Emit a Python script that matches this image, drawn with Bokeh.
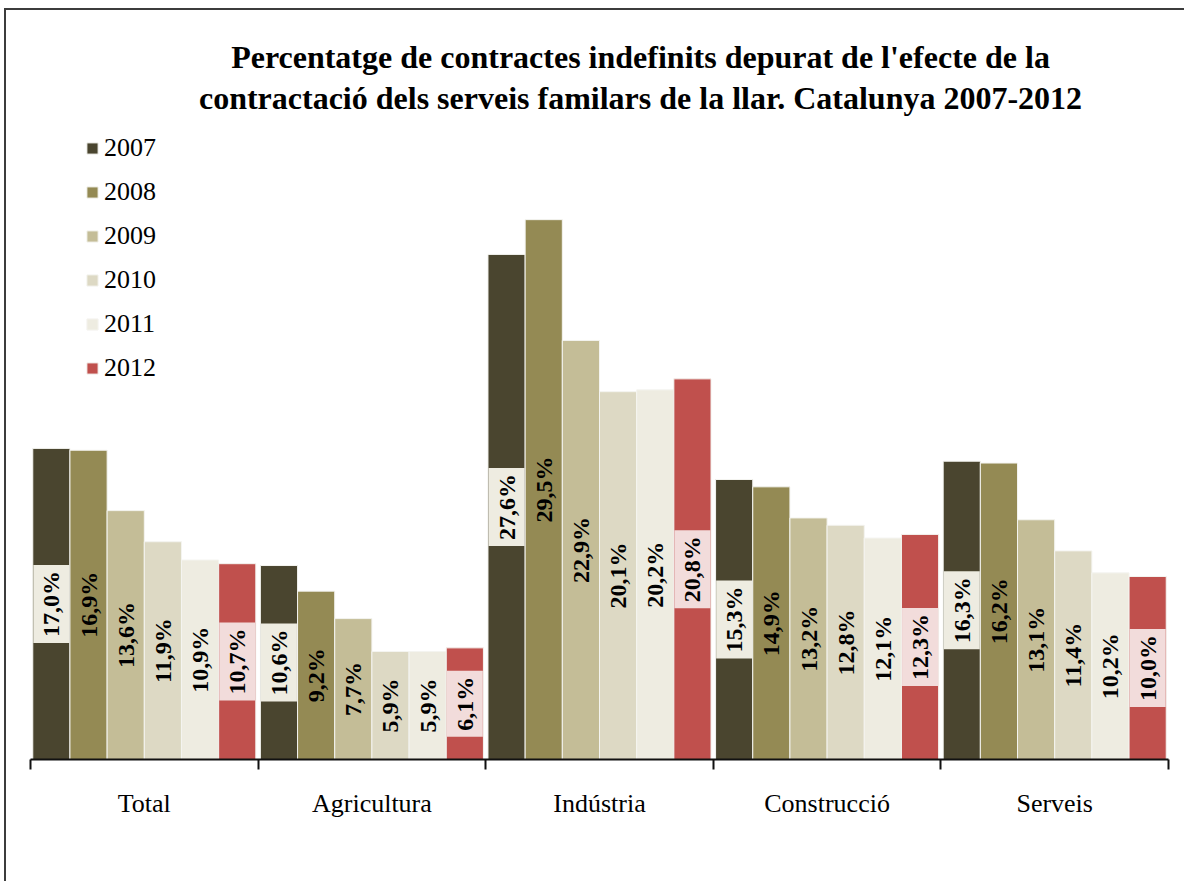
from bokeh.plotting import figure
from bokeh.models import (ColumnDataSource, Range1d, LinearAxis, FixedTicker,
                          Legend, LegendItem, Label)
from bokeh.transform import dodge
from bokeh.core.properties import value
from bokeh.embed import file_html
from bokeh.resources import INLINE
import math

categories = ["Total", "Agricultura", "Indústria", "Construcció", "Serveis"]
years = ["2007", "2008", "2009", "2010", "2011", "2012"]
v2007 = [17.0, 10.6, 27.6, 15.3, 16.3]
v2008 = [16.9, 9.2, 29.5, 14.9, 16.2]
v2009 = [13.6, 7.7, 22.9, 13.2, 13.1]
v2010 = [11.9, 5.9, 20.1, 12.8, 11.4]
v2011 = [10.9, 5.9, 20.2, 12.1, 10.2]
v2012 = [10.7, 6.1, 20.8, 12.3, 10.0]
series = [v2007, v2008, v2009, v2010, v2011, v2012]

colors = ["#4A452F", "#948A54", "#C4BD97", "#DDD9C4", "#EEECE1", "#C0504D"]
label_bg = {0: "#EEECE1", 5: "#F2DCDB"}
title_text = ("Percentatge de contractes indefinits depurat de l'efecte de la\n"
              "contractació dels serveis familars de la llar. Catalunya 2007-2012")

SERIF = "Liberation Serif"
W, H = 1180, 873
MB_L, MB_R, MB_T, MB_B = 24, 18, 0, 124
frame_h = H - MB_T - MB_B
PX_PER_UNIT = 18.3

p = figure(width=W, height=H, output_backend="svg", toolbar_location=None,
           x_range=Range1d(0, len(categories)),
           y_range=Range1d(0, frame_h / PX_PER_UNIT),
           x_axis_location=None, y_axis_location=None,
           min_border_left=MB_L, min_border_right=MB_R,
           min_border_top=MB_T, min_border_bottom=MB_B,
           title=None,
           styles={"border-top": "2px solid #3c3c3c",
                   "border-left": "2px solid #3c3c3c",
                   "margin-left": "4px", "margin-top": "8px"})
p.outline_line_color = None
p.xgrid.visible = False
p.ygrid.visible = False
p.background_fill_color = "white"
p.border_fill_color = "white"

bw = 0.98 / len(years)
items = []
for j, (yr, vals) in enumerate(zip(years, series)):
    src = ColumnDataSource(dict(
        xc=[i + 0.5 for i in range(len(categories))],
        v=vals,
        mid=[x / 2 for x in vals],
        lab=[f"{x:.1f}".replace(".", ",") + "%" for x in vals],
    ))
    off = (j - (len(years) - 1) / 2) * bw
    r = p.vbar(x=dodge("xc", off, range=p.x_range), top="v", width=bw,
               fill_color=colors[j], line_color="#F4F4F0", line_width=1, source=src)
    items.append(LegendItem(label=yr, renderers=[r]))
    kw = {}
    if j in label_bg:
        kw = dict(background_fill_color=label_bg[j], padding=(6, 6, 5, 5))
    p.text(x=dodge("xc", off, range=p.x_range), y="mid", text="lab", source=src,
           angle=math.pi / 2, text_align="center", text_baseline="middle",
           text_font=value(SERIF), text_font_style="bold", text_font_size="24px",
           text_color="black", **kw)

axis = LinearAxis(
    ticker=FixedTicker(ticks=[i + 0.5 for i in range(len(categories))],
                       minor_ticks=list(range(len(categories) + 1))),
    major_label_overrides={i + 0.5: c for i, c in enumerate(categories)},
    axis_line_color="#111111", axis_line_width=2,
    major_tick_in=0, major_tick_out=0,
    minor_tick_in=0, minor_tick_out=10,
    minor_tick_line_color="#111111", minor_tick_line_width=2,
    major_label_text_font=SERIF, major_label_text_font_size="26px",
    major_label_text_color="black", major_label_standoff=19,
)
p.add_layout(axis, "below")

legend = Legend(items=items, location=(55, 376), orientation="vertical",
                glyph_width=14, glyph_height=14, label_height=30,
                label_standoff=5, spacing=14, padding=0, margin=0,
                border_line_color=None, background_fill_alpha=0,
                label_text_font=SERIF, label_text_font_size="26px",
                label_text_color="black")
p.add_layout(legend, "center")

title = Label(x=610, y=682, x_units="screen", y_units="screen", text=title_text,
              text_align="center", text_baseline="middle",
              text_font=SERIF, text_font_style="bold", text_font_size="32px",
              text_line_height=1.13, text_color="black")
p.add_layout(title)

open("out.html", "w").write(file_html(p, INLINE))
